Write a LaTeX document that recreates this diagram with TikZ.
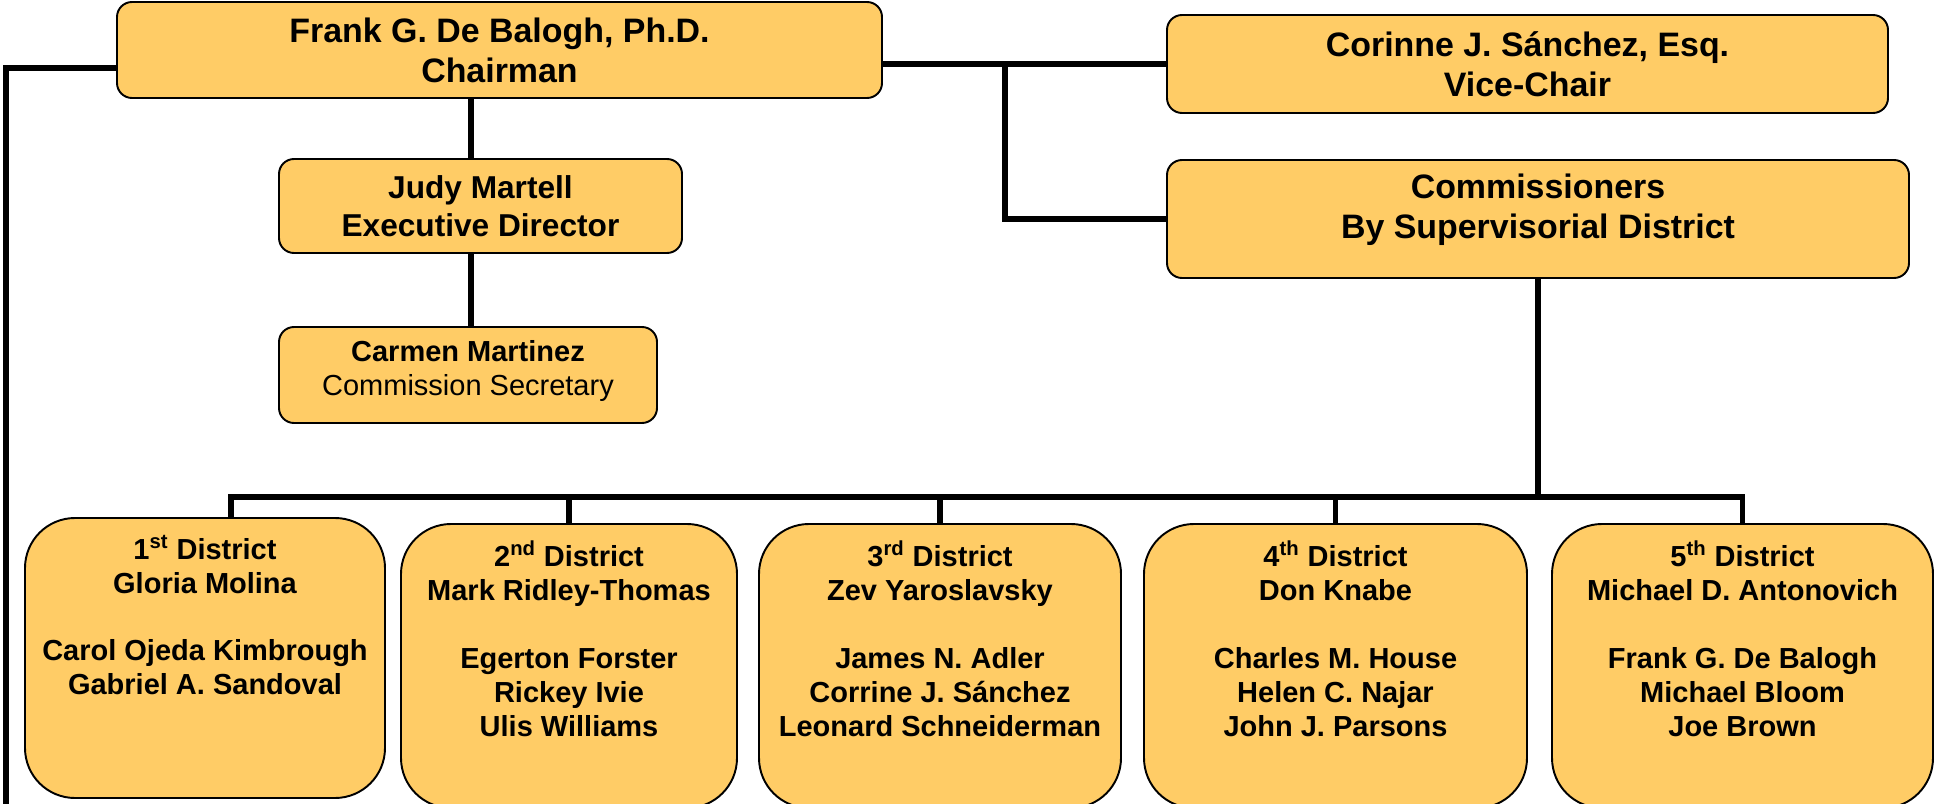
\documentclass[tikz,border=0pt]{standalone}
\usepackage{fontspec}
\setmainfont{Liberation Sans}
\usetikzlibrary{calc}
\definecolor{boxfill}{HTML}{FFCC66}
\tikzset{
	orgbox/.style={draw=black, line width=1.1pt, fill=boxfill, rounded corners=0.3cm, inner sep=0pt, align=center},
	topbox/.style={orgbox, font=\fontsize{19.3}{22.8}\selectfont\bfseries},
	distbox/.style={orgbox, rounded corners=1cm},
	toptext/.style={anchor=north, inner sep=0pt, align=center, font=\fontsize{19.3}{22.8}\selectfont\bfseries},
	disttext/.style={anchor=north, inner sep=0pt, align=center, font=\fontsize{16.5}{19.3}\selectfont\bfseries},
	conn/.style={line width=3.2pt}
}

\begin{document}
\begin{tikzpicture}[y=-1cm]

	\clip (0, 0) rectangle (38.7, 16.08);

	% --- top ---
	\node[topbox, minimum width=15.3cm, minimum height=1.92cm] (chair) at (9.99, 1.0) {Frank G. De Balogh, Ph.D.\\Chairman};
	\node[topbox, minimum width=14.42cm, minimum height=1.96cm] (vice) at (30.55, 1.28) {Corinne J. Sánchez, Esq.\\Vice-Chair};
	\node[orgbox, minimum width=14.84cm, minimum height=2.36cm] (comm) at (30.76, 4.38) {};
	\node[toptext] (commtext) at ([yshift=-0.29cm]comm.north) {Commissioners\\By Supervisorial District};

	\node[orgbox, minimum width=8.06cm, minimum height=1.88cm, font=\fontsize{18}{21.5}\selectfont\bfseries] (judy) at (9.61, 4.12) {Judy Martell\\Executive Director};
	\node[orgbox, minimum width=7.56cm, minimum height=1.92cm] (carmen) at (9.36, 7.5) {};
	\node[inner sep=0pt, align=center, font=\fontsize{16.5}{19.9}\selectfont] (carmentext) at ([yshift=0.08cm]carmen.center) {\textbf{Carmen Martinez}\\Commission Secretary};

	% --- districts ---
	\node[distbox, minimum width=7.2cm, minimum height=5.6cm] (d1) at (4.1, 13.16) {};
	\node[distbox, minimum width=6.72cm, minimum height=5.68cm] (d2) at (11.38, 13.32) {};
	\node[distbox, minimum width=7.24cm, minimum height=5.68cm] (d3) at (18.8, 13.32) {};
	\node[distbox, minimum width=7.66cm, minimum height=5.68cm] (d4) at (26.71, 13.32) {};
	\node[distbox, minimum width=7.62cm, minimum height=5.68cm] (d5) at (34.85, 13.32) {};

	\node[disttext] (d1text) at ([yshift=-0.35cm]d1.north) {1\textsuperscript{st} District\\Gloria Molina\\[19.3pt]Carol Ojeda Kimbrough\\Gabriel A. Sandoval};
	\node[disttext] (d2text) at ([yshift=-0.35cm]d2.north) {2\textsuperscript{nd} District\\Mark Ridley-Thomas\\[19.3pt]Egerton Forster\\Rickey Ivie\\Ulis Williams};
	\node[disttext] (d3text) at ([yshift=-0.35cm]d3.north) {3\textsuperscript{rd} District\\Zev Yaroslavsky\\[19.3pt]James N. Adler\\Corrine J. Sánchez\\Leonard Schneiderman};
	\node[disttext] (d4text) at ([yshift=-0.35cm]d4.north) {4\textsuperscript{th} District\\Don Knabe\\[19.3pt]Charles M. House\\Helen C. Najar\\John J. Parsons};
	\node[disttext] (d5text) at ([yshift=-0.35cm]d5.north) {5\textsuperscript{th} District\\Michael D. Antonovich\\[19.3pt]Frank G. De Balogh\\Michael Bloom\\Joe Brown};

	\coordinate (spine) at (9.42, 0);
	\coordinate (branch) at (20.1, 0);
	\coordinate (bus) at (0, 9.94);
	\coordinate (leftend) at (0.12, 16.3);

	% chairman lines
	\draw[conn] ([yshift=-0.36cm]chair.west) -| (leftend);
	\draw[conn] (spine |- chair.south) -- (spine |- judy.north);
	\draw[conn] (spine |- judy.south) -- (spine |- carmen.north);
	\draw[conn] (vice.west -| chair.east) -- (vice.west);
	\draw[conn] (vice.west -| branch) |- (comm.west);

	% distribution
	\draw[conn] (comm.south) -- (comm.south |- bus);
	\draw[conn] ([xshift=0.52cm]d1.north) |- (d5.north |- bus) -- (d5.north);
	\foreach \d in {d2, d3, d4}
		\draw[conn] (\d.north) -- (\d.north |- bus);

\end{tikzpicture}
\end{document}
